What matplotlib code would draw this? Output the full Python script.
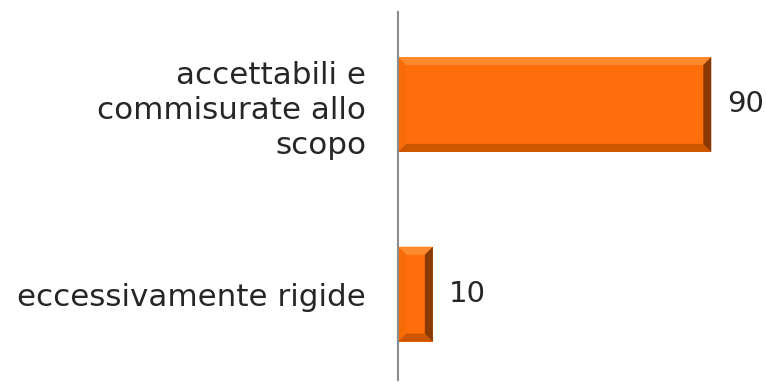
import matplotlib.pyplot as plt
from matplotlib.patches import Polygon
import numpy as np

categorie = ['eccessivamente rigide', 'accettabili e\ncommisurate allo\nscopo']
valori = [10, 90]

plt.rcParams['font.family'] = ['DejaVu Sans']

fig = plt.figure(figsize=(7.66, 3.82), dpi=100)
ax = fig.add_axes([0.5196, 0.005, 0.4544, 0.9634])

pos = np.arange(len(valori))
altezza = 0.5
bars = ax.barh(pos, valori, height=altezza, color='#FF6E0A', edgecolor='none', zorder=2)

ax.set_xlim(0, 100)
ax.set_ylim(-0.453, 1.487)

fig.canvas.draw()
inv = ax.transData.inverted()

# bevel around each bar: light top/left, dark bottom/right
bev = 8  # pixels
for b in bars:
    x0, y0 = b.get_x(), b.get_y()
    x1, y1 = x0 + b.get_width(), y0 + b.get_height()
    (px0, py0), (px1, py1) = ax.transData.transform([(x0, y0), (x1, y1)])
    d = min(bev, (px1 - px0) / 2.5)
    outer = [(px0, py0), (px1, py0), (px1, py1), (px0, py1)]
    inner = [(px0 + d, py0 + d), (px1 - d, py0 + d), (px1 - d, py1 - d), (px0 + d, py1 - d)]
    facce = [
        ([outer[3], outer[2], inner[2], inner[3]], '#FF8A2E'),  # top
        ([outer[0], outer[1], inner[1], inner[0]], '#CC5500'),  # bottom
        ([outer[1], outer[2], inner[2], inner[1]], '#8A3A00'),  # right
        ([outer[0], outer[3], inner[3], inner[0]], '#F86C08'),  # left
    ]
    for pts, col in facce:
        ax.add_patch(Polygon(inv.transform(pts), closed=True, facecolor=col,
                             edgecolor='none', zorder=3))

for v, p in zip(valori, pos):
    ax.text(v + 4.5, p, str(v), va='center', ha='left', fontsize=21, color='#262626')

ax.set_yticks(pos)
ax.set_yticklabels(categorie, fontsize=22.3, color='#262626', multialignment='right',
                   linespacing=1.27)
ax.tick_params(axis='y', length=0, pad=23)
ax.set_xticks([])
for s in ['top', 'right', 'bottom']:
    ax.spines[s].set_visible(False)
ax.spines['left'].set_color('#8c8c8c')
ax.spines['left'].set_linewidth(1.5)
ax.spines['left'].set_zorder(4)

fig.savefig('out.png', dpi=100)
